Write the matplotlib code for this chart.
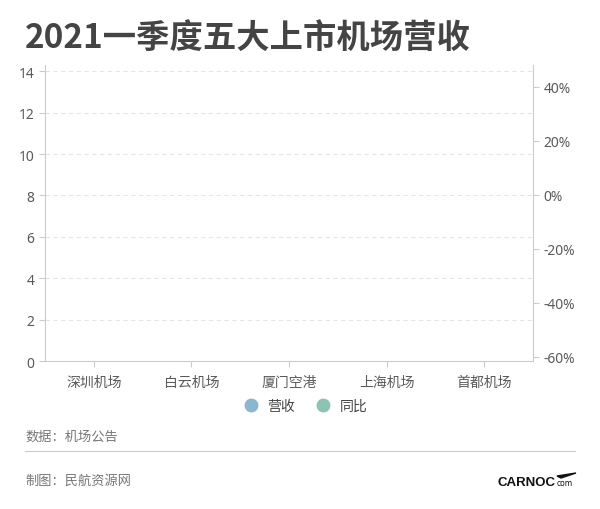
import matplotlib.pyplot as plt
from matplotlib.lines import Line2D
from matplotlib.patches import Polygon

plt.rcParams['font.family'] = ['Noto Sans', 'Noto Sans CJK SC', 'DejaVu Sans']

# the captured frame shows the chart before its bars/line were drawn
airports = ['深圳机场', '白云机场', '厦门空港', '上海机场', '首都机场']
revenue = [0, 0, 0, 0, 0]
yoy = []
left_ticks = [0, 2, 4, 6, 8, 10, 12, 14]
right_ticks = [-60, -40, -20, 0, 20, 40]
legend_names = ['营收', '同比']
legend_colors = ['#89b7d0', '#8cc3b3']

fig = plt.figure(figsize=(6, 5.1), dpi=100)
ax = fig.add_axes([45 / 600, 1 - 362 / 510, 488 / 600, 296 / 510])
ax2 = ax.twinx()

x = list(range(len(airports)))
ax.bar(x, revenue, width=0.5, color=legend_colors[0])
if yoy:
    ax2.plot(x, yoy, color=legend_colors[1], marker='o')

ax.set_xlim(-0.5, len(airports) - 0.5)
ax.set_ylim(0, 14.3)
ax.set_yticks(left_ticks)
ax.set_xticks(x)
ax.set_xticklabels(airports)
ax2.set_ylim(-61.5, 48)
ax2.set_yticks(right_ticks)
ax2.set_yticklabels([f'{t}%' for t in right_ticks])

ax.grid(axis='y', color='#e6e6e6', linestyle=(0, (4, 3)), linewidth=0.8)
ax.set_axisbelow(True)

for a in (ax, ax2):
    for s in a.spines.values():
        s.set_visible(False)
    a.tick_params(colors='#cccccc', labelcolor='#5a5a5a', labelsize=10, length=4, width=0.8)
ax.spines['left'].set_visible(True)
ax.spines['left'].set_color('#cccccc')
ax.spines['bottom'].set_visible(True)
ax.spines['bottom'].set_color('#cccccc')
ax2.spines['right'].set_visible(True)
ax2.spines['right'].set_color('#cccccc')
ax.tick_params(axis='x', pad=6)

handles = [Line2D([], [], marker='o', linestyle='', markersize=9, color=c) for c in legend_colors]
fig.legend(handles, legend_names, loc='center', bbox_to_anchor=(302 / 600, 1 - 407 / 510),
           ncol=2, frameon=False, fontsize=10, handletextpad=0.2, columnspacing=1.0,
           labelcolor='#444444')

fig.text(25 / 600, 1 - 38 / 510, '2021一季度五大上市机场营收', fontsize=24, fontweight='bold',
         color='#444444', va='center', ha='left', family=['Noto Sans CJK SC', 'DejaVu Sans'])
fig.text(25 / 600, 1 - 437 / 510, '数据：机场公告', fontsize=9.5, color='#777777', va='center')
fig.add_artist(Line2D([25 / 600, 575 / 600], [1 - 452 / 510, 1 - 452 / 510], color='#cccccc', linewidth=0.8))
fig.text(25 / 600, 1 - 481 / 510, '制图：民航资源网', fontsize=9.5, color='#777777', va='center')

# CARNOC.com logo
fig.text(497 / 600, 1 - 483 / 510, 'CARNOC', fontsize=9.5, fontweight='bold', color='#111111',
         va='center', family='Liberation Sans')
fig.text(557 / 600, 1 - 484 / 510, 'com', fontsize=5.5, color='#111111', va='center', family='DejaVu Sans')
fig.add_artist(Polygon([[557 / 600, 1 - 477 / 510], [576 / 600, 1 - 474 / 510], [561 / 600, 1 - 479 / 510]],
                       closed=True, color='#111111', transform=fig.transFigure))

fig.savefig('out.png', dpi=100)
